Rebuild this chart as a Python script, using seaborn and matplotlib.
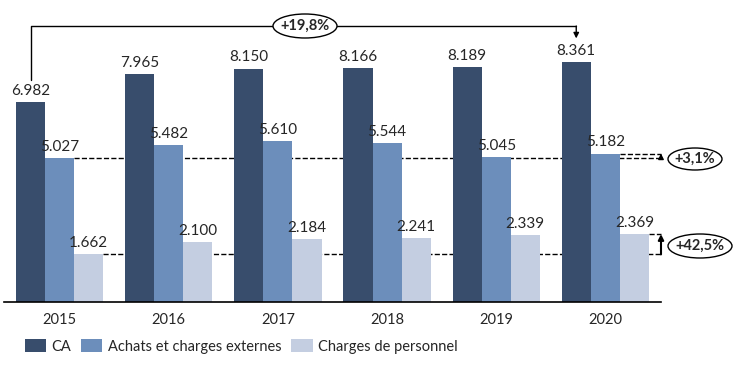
import numpy as np
import pandas as pd
import seaborn as sns
import matplotlib.pyplot as plt
from matplotlib.patches import Ellipse

# data
years = ['2015', '2016', '2017', '2018', '2019', '2020']
ca = [6982, 7965, 8150, 8166, 8189, 8361]
achats = [5027, 5482, 5610, 5544, 5045, 5182]
charges = [1662, 2100, 2184, 2241, 2339, 2369]
series = ['CA', 'Achats et charges externes', 'Charges de personnel']
colors = ['#384D6C', '#6C8EBB', '#C4CEE1']

df = pd.DataFrame({
    'year': years * 3,
    'value': ca + achats + charges,
    'serie': [series[0]] * 6 + [series[1]] * 6 + [series[2]] * 6,
})

sns.set_style('white')
plt.rcParams['font.family'] = ['Lato', 'DejaVu Sans']

fig = plt.figure(figsize=(7.39, 3.66), dpi=100)
ax = fig.add_axes([4 / 739, 64 / 366, 657 / 739, 302 / 366])

sns.barplot(data=df, x='year', y='value', hue='serie', palette=colors,
            width=0.8, saturation=1, linewidth=0, ax=ax, legend=True, zorder=2)

ax.set_xlim(-0.51, 5.51)
ax.set_ylim(0, 10541)
ax.set_xlabel('')
ax.set_ylabel('')
ax.set_yticks([])
for s in ['top', 'left', 'right']:
    ax.spines[s].set_visible(False)
ax.spines['bottom'].set_color('black')
ax.spines['bottom'].set_linewidth(1.2)
ax.spines['bottom'].set_zorder(3)
ax.tick_params(axis='x', length=0, pad=8, labelsize=10.5)

# value labels
for cont in ax.containers:
    ax.bar_label(cont, labels=[f'{v/1000:.3f}' for v in cont.datavalues],
                 padding=3, fontsize=11)

bw = 0.8 / 3
# positions of bars
x_ca = np.arange(6) - bw
x_ach = np.arange(6)
x_ch = np.arange(6) + bw
xr = 5.51

# dashed reference lines (behind the bars)
kw = dict(ls='--', color='black', lw=1, clip_on=False, zorder=1)
ax.plot([x_ach[0] + bw / 2, xr], [achats[0], achats[0]], **kw)
ax.plot([x_ach[5] + bw / 2, xr], [achats[5], achats[5]], **kw)
ax.plot([x_ch[0] + bw / 2, xr], [charges[0], charges[0]], **kw)
ax.plot([x_ch[5] + bw / 2, xr], [charges[5], charges[5]], **kw)

# vertical arrows
ax.annotate('', xy=(xr, achats[5]), xytext=(xr, achats[0]), annotation_clip=False,
            arrowprops=dict(arrowstyle='-|>', color='black', lw=1, mutation_scale=8,
                            shrinkA=0, shrinkB=0))
ax.annotate('', xy=(xr, charges[5]), xytext=(xr, charges[0]), annotation_clip=False,
            arrowprops=dict(arrowstyle='-|>', color='black', lw=1.5, mutation_scale=8,
                            shrinkA=0, shrinkB=0))

# top bracket
ytop = 9633
ax.plot([x_ca[0], x_ca[0], x_ca[5]], [7750, ytop, ytop], color='black', lw=1, clip_on=False)
ax.annotate('', xy=(x_ca[5], 9200), xytext=(x_ca[5], ytop), annotation_clip=False,
            arrowprops=dict(arrowstyle='-|>', color='black', lw=1, mutation_scale=8,
                            shrinkA=0, shrinkB=0))


def bubble(xc, yc, w, h, txt):
    e = Ellipse((xc / 739, 1 - yc / 366), w / 739, h / 366, transform=fig.transFigure,
                facecolor='white', edgecolor='black', lw=1, zorder=5)
    fig.add_artist(e)
    fig.text(xc / 739, 1 - yc / 366, txt, ha='center', va='center', fontsize=10.5,
             fontweight='bold', zorder=6)


bubble(305, 26, 64, 24, '+19,8%')
bubble(695, 159, 54, 22, '+3,1%')
bubble(700, 246, 64, 24, '+42,5%')

# legend at the bottom
handles, labels = ax.get_legend_handles_labels()
ax.get_legend().remove()
fig.legend(handles, labels, loc='lower left', bbox_to_anchor=(12 / 739, -1 / 366),
           ncol=3, frameon=False, fontsize=10.5, handlelength=1.45, handleheight=1.0,
           handletextpad=0.35, columnspacing=0.7)

fig.savefig('out.png', dpi=100)
